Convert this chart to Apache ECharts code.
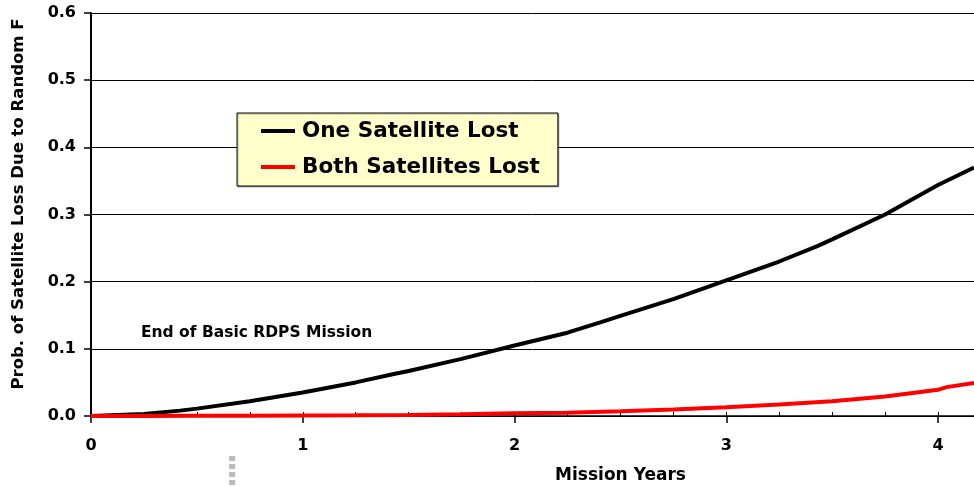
<!DOCTYPE html>
<html>
<head>
<meta charset="utf-8">
<script src="https://cdn.jsdelivr.net/npm/echarts@6/dist/echarts.min.js"></script>
<style>
  html, body { margin: 0; padding: 0; background: #fff; }
  #chart { width: 974px; height: 486px; }
</style>
</head>
<body>
<div id="chart"></div>
<script>
// Mission years sampled for the single-loss curve
const oneYears = [0, 0.25, 0.42, 0.5, 0.75, 1, 1.25, 1.43, 1.5, 1.75, 2, 2.25, 2.42, 2.5, 2.75, 3, 3.25, 3.43, 3.5, 3.75, 4, 4.17];
// Probability that one satellite is lost
const oneLost = [0, 0.003, 0.008, 0.011, 0.022, 0.035, 0.05, 0.0625, 0.067, 0.085, 0.105, 0.124, 0.141, 0.149, 0.174, 0.202, 0.23, 0.253, 0.263, 0.3, 0.344, 0.37];

// Mission years sampled for the double-loss curve
const bothYears = [0, 0.25, 0.5, 0.75, 1, 1.25, 1.5, 1.75, 2, 2.25, 2.5, 2.75, 3, 3.25, 3.5, 3.75, 4, 4.04, 4.17];
// Probability that both satellites are lost
const bothLost = [0, 0, 0.0003, 0.0005, 0.0008, 0.001, 0.0015, 0.0025, 0.004, 0.005, 0.007, 0.0095, 0.013, 0.017, 0.022, 0.029, 0.039, 0.043, 0.049];

const seriesNames = ['One Satellite Lost', 'Both Satellites Lost'];
const yTickLabels = ['0.0', '0.1', '0.2', '0.3', '0.4', '0.5', '0.6'];
const xTickLabels = ['0', '1', '2', '3', '4'];

// End of the basic mission, in years
const basicMissionEnd = 2 / 3;

const font = '"DejaVu Sans", "Liberation Sans", sans-serif';

const chart = echarts.init(document.getElementById('chart'), null, { renderer: 'canvas' });

const option = {
  animation: false,
  backgroundColor: '#ffffff',
  grid: { left: 91, top: 13, bottom: 70, right: 0, containLabel: false, outerBoundsMode: 'none' },
  xAxis: [
    {
      type: 'value',
      min: 0, max: 4.17, interval: 1,
      axisLine: { show: true, lineStyle: { color: '#000', width: 1.5 } },
      axisTick: { show: true, inside: false, length: 7, lineStyle: { color: '#000', width: 1.5 } },
      splitLine: { show: false },
      axisLabel: {
        margin: 22, color: '#000', fontFamily: font, fontWeight: 'bold', fontSize: 16,
        showMaxLabel: false,
        formatter: v => (Number.isInteger(v) && v >= 0 && v < xTickLabels.length) ? xTickLabels[v] : ''
      },
      name: 'Mission Years',
      nameLocation: 'middle',
      nameGap: 51,
      nameTextStyle: { color: '#000', fontFamily: font, fontWeight: 'bold', fontSize: 17, padding: [0, 0, 0, 176] }
    },
    {
      // quarter-year marks on the inner side of the axis
      type: 'value',
      position: 'bottom',
      min: 0, max: 4.17, interval: 0.25,
      axisLine: { show: false },
      axisTick: { show: true, inside: true, length: 4, lineStyle: { color: '#000', width: 1 } },
      axisLabel: { show: false },
      splitLine: { show: false }
    }
  ],
  yAxis: {
    type: 'value',
    min: 0, max: 0.6, interval: 0.1,
    axisLine: { show: true, onZero: false, lineStyle: { color: '#000', width: 2 } },
    axisTick: { show: true, inside: false, length: 7, lineStyle: { color: '#000', width: 1.5 } },
    splitLine: { show: true, lineStyle: { color: '#000', width: 1 } },
    axisLabel: {
      margin: 15, color: '#000', fontFamily: font, fontWeight: 'bold', fontSize: 16,
      formatter: v => yTickLabels[Math.round(v * 10)] || ''
    }
  },
  legend: {
    orient: 'vertical',
    left: 237, top: 113,
    padding: [7, 18, 8, 24],
    itemGap: 14,
    itemWidth: 34, itemHeight: 4,
    icon: 'rect',
    backgroundColor: '#FFFFCC',
    borderColor: '#000',
    borderWidth: 1,
    shadowColor: 'rgba(0,0,0,0.3)',
    shadowOffsetX: 1, shadowOffsetY: 1, shadowBlur: 0,
    textStyle: { color: '#000', fontFamily: font, fontWeight: 'bold', fontSize: 21.5, lineHeight: 22, padding: [0, 0, 0, 2] },
    data: seriesNames
  },
  series: [
    {
      name: seriesNames[0],
      type: 'line',
      symbol: 'none',
      lineStyle: { color: '#000', width: 4 },
      itemStyle: { color: '#000' },
      data: oneYears.map((x, i) => [x, oneLost[i]]),
      z: 3
    },
    {
      name: seriesNames[1],
      type: 'line',
      symbol: 'none',
      lineStyle: { color: '#FF0000', width: 4 },
      itemStyle: { color: '#FF0000' },
      data: bothYears.map((x, i) => [x, bothLost[i]]),
      z: 4
    }
  ]
};

chart.setOption(option);

// axis title, annotation text and the dashed marker below the axis at the end of the basic mission
const markX = chart.convertToPixel({ xAxisIndex: 0 }, basicMissionEnd);
const axisY = chart.convertToPixel({ yAxisIndex: 0 }, 0);
chart.setOption({
  graphic: [
    {
      type: 'text',
      x: 19, y: 204,
      rotation: Math.PI / 2,
      style: {
        text: 'Prob. of Satellite Loss Due to Random F',
        fill: '#000',
        font: 'bold 16.5px ' + font,
        textAlign: 'center',
        textVerticalAlign: 'middle'
      }
    },
    {
      type: 'text',
      x: 141, y: 333,
      style: {
        text: 'End of Basic RDPS Mission',
        fill: '#000',
        font: 'bold 15.5px ' + font,
        textAlign: 'left',
        textVerticalAlign: 'middle'
      }
    },
    {
      type: 'line',
      shape: { x1: markX, y1: axisY + 40, x2: markX, y2: axisY + 72 },
      style: { stroke: '#BBBBBB', lineWidth: 6, lineDash: [5, 3] },
      silent: true
    }
  ]
});
</script>
</body>
</html>
